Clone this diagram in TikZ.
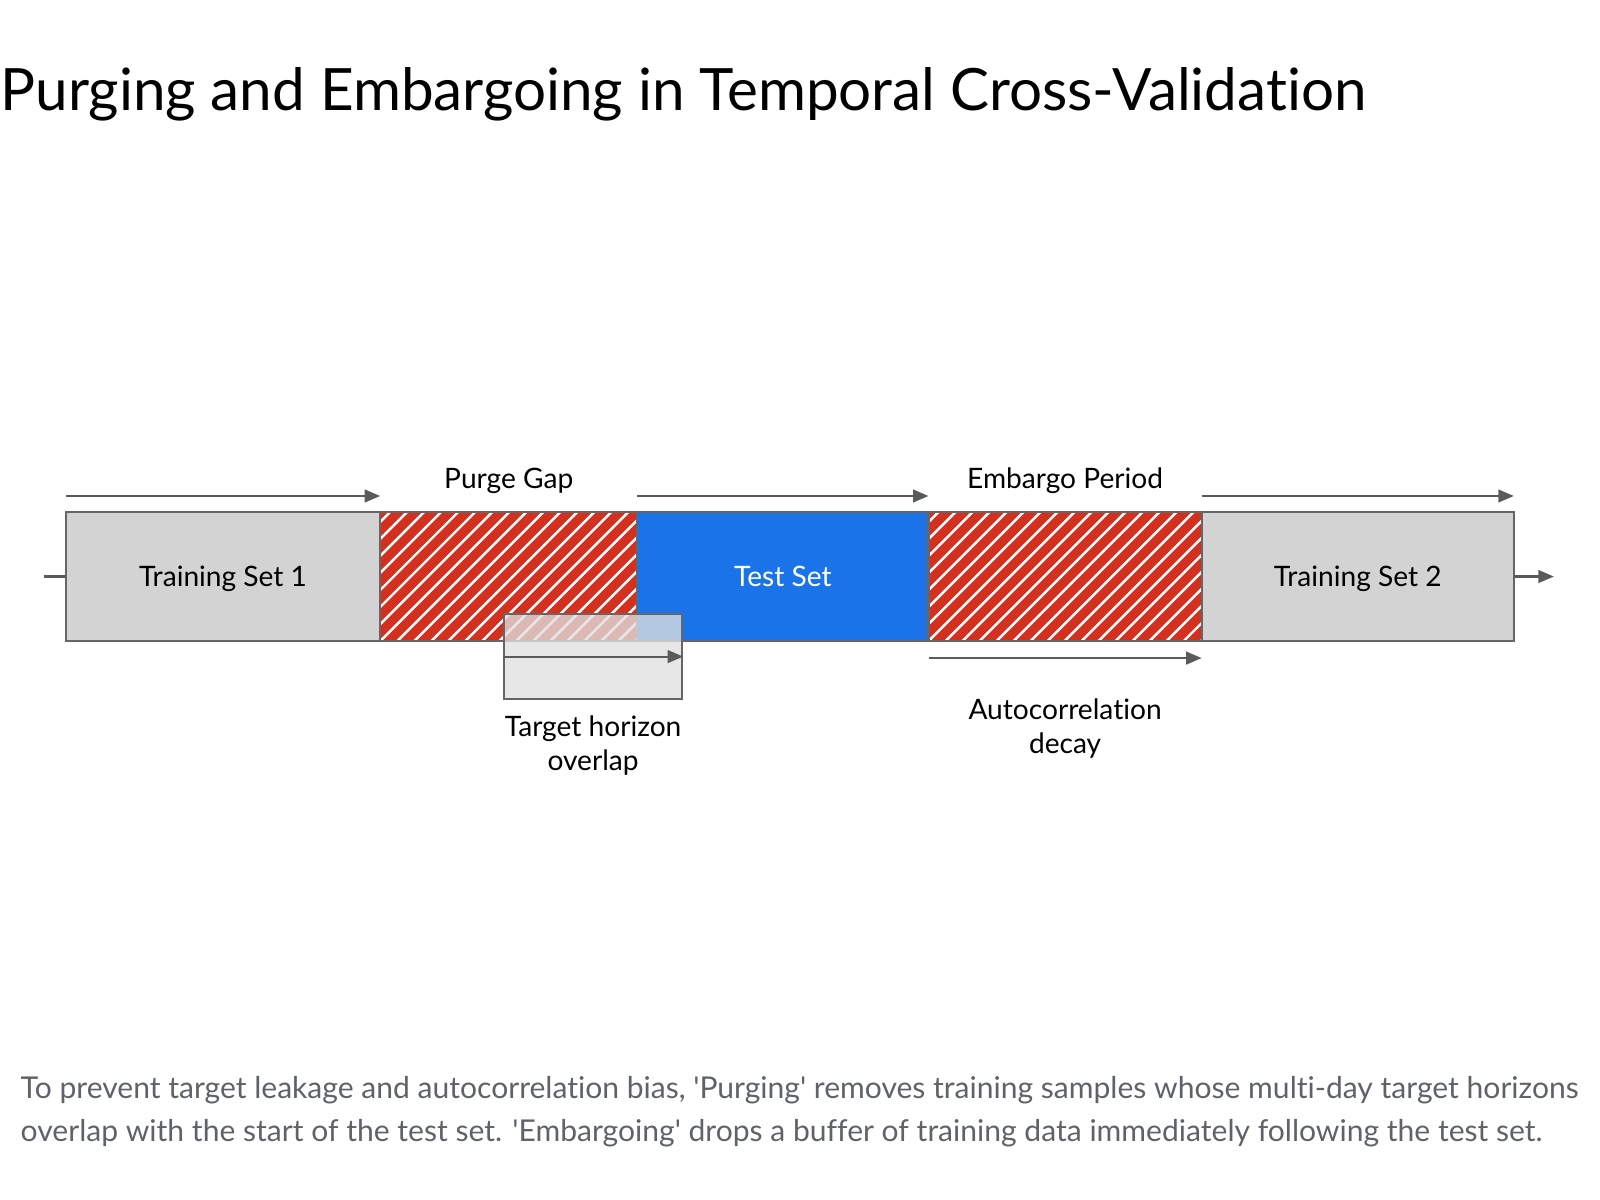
\documentclass[tikz,border=0pt]{standalone}
\usepackage{fontspec}
\setmainfont{Lato}[Ligatures=CommonOff]
\usetikzlibrary{arrows.meta,positioning}
\definecolor{setgrey}{HTML}{D3D3D3}
\definecolor{edgegrey}{HTML}{666666}
\definecolor{gapred}{HTML}{D3301F}
\definecolor{testblue}{HTML}{1A73E8}
\definecolor{capgrey}{HTML}{5F6368}
\definecolor{flowgrey}{HTML}{5A5A5A}

\begin{document}
\begin{tikzpicture}[x=0.01cm,y=-0.01cm,>={Triangle[length=4.4pt,width=3.6pt]},
    block/.style={draw=edgegrey,line width=0.6pt,minimum height=1.29cm,inner sep=0pt,outer sep=0pt,text depth=0pt,font=\fontsize{8}{9.6}\selectfont},
    trainbox/.style={block,fill=setgrey},
    testbox/.style={block,fill=testblue,text=white},
    gapbox/.style={block,fill=gapred,path picture={
        \foreach \k in {-9,...,18}
          \draw[white,line width=0.7pt] ([xshift=\k*0.17cm]path picture bounding box.south west) -- ++(1.4cm,1.4cm);}},
    flow/.style={->,draw=flowgrey,line width=0.6pt},
    tag/.style={inner sep=0pt,font=\fontsize{8}{9.6}\selectfont}]
  \useasboundingbox (0,0) rectangle (1600,1200);

  % title
  \node[anchor=base west,inner sep=0pt,font=\fontsize{16.6}{20}\selectfont] (title) at (0,110) {Purging and Embargoing in Temporal Cross-Validation};

  % the time line
  \node[trainbox,minimum width=3.14cm,anchor=north west] (train1) at (66,512) {Training Set 1};
  \node[gapbox,minimum width=2.57cm,right=0pt of train1] (purge) {};
  \node[testbox,minimum width=2.91cm,right=0pt of purge] (test) {Test Set};
  \node[gapbox,minimum width=2.73cm,right=0pt of test] (embargo) {};
  \node[trainbox,minimum width=3.12cm,right=0pt of embargo] (train2) {Training Set 2};

  \coordinate[left=0.22cm of train1] (tstart);
  \coordinate[right=0.4cm of train2] (tend);
  \draw[draw=flowgrey,line width=0.6pt] (tstart) -- (train1);
  \draw[flow] (train2) -- (tend);

  % arrows over the sets
  \foreach \s in {train1,test,train2}
    \draw[flow] ([yshift=0.16cm]\s.north west) -- ([yshift=0.16cm]\s.north east);
  \node[tag,anchor=base] at ([yshift=0.23cm]purge.north) {Purge Gap};
  \node[tag,anchor=base] at ([yshift=0.23cm]embargo.north) {Embargo Period};

  % target horizon
  \node[draw=edgegrey,line width=0.6pt,fill=black!12,fill opacity=0.78,minimum width=1.78cm,minimum height=0.85cm,inner sep=0pt,anchor=north west] (horizon) at (503,613) {};
  \draw[flow] (horizon.west) -- (horizon.east);
  \node[tag,align=center,below=0.15cm of horizon] (hlabel) {Target horizon\\overlap};

  % embargo decay
  \draw[flow] ([yshift=-0.17cm]embargo.south west) -- ([yshift=-0.17cm]embargo.south east);
  \node[tag,align=center,anchor=north] (decay) at ([yshift=-0.57cm]embargo.south) {Autocorrelation\\decay};

  % caption
  \node[anchor=base west,inner sep=0pt,align=left,text=capgrey,font=\fontsize{8.55}{12.1}\selectfont] (caption) at (20,1141)
    {To prevent target leakage and autocorrelation bias, \textquotesingle Purging\textquotesingle{} removes training samples whose multi-day target horizons\\
     overlap with the start of the test set. \textquotesingle Embargoing\textquotesingle{} drops a buffer of training data immediately following the test set.};
\end{tikzpicture}
\end{document}
